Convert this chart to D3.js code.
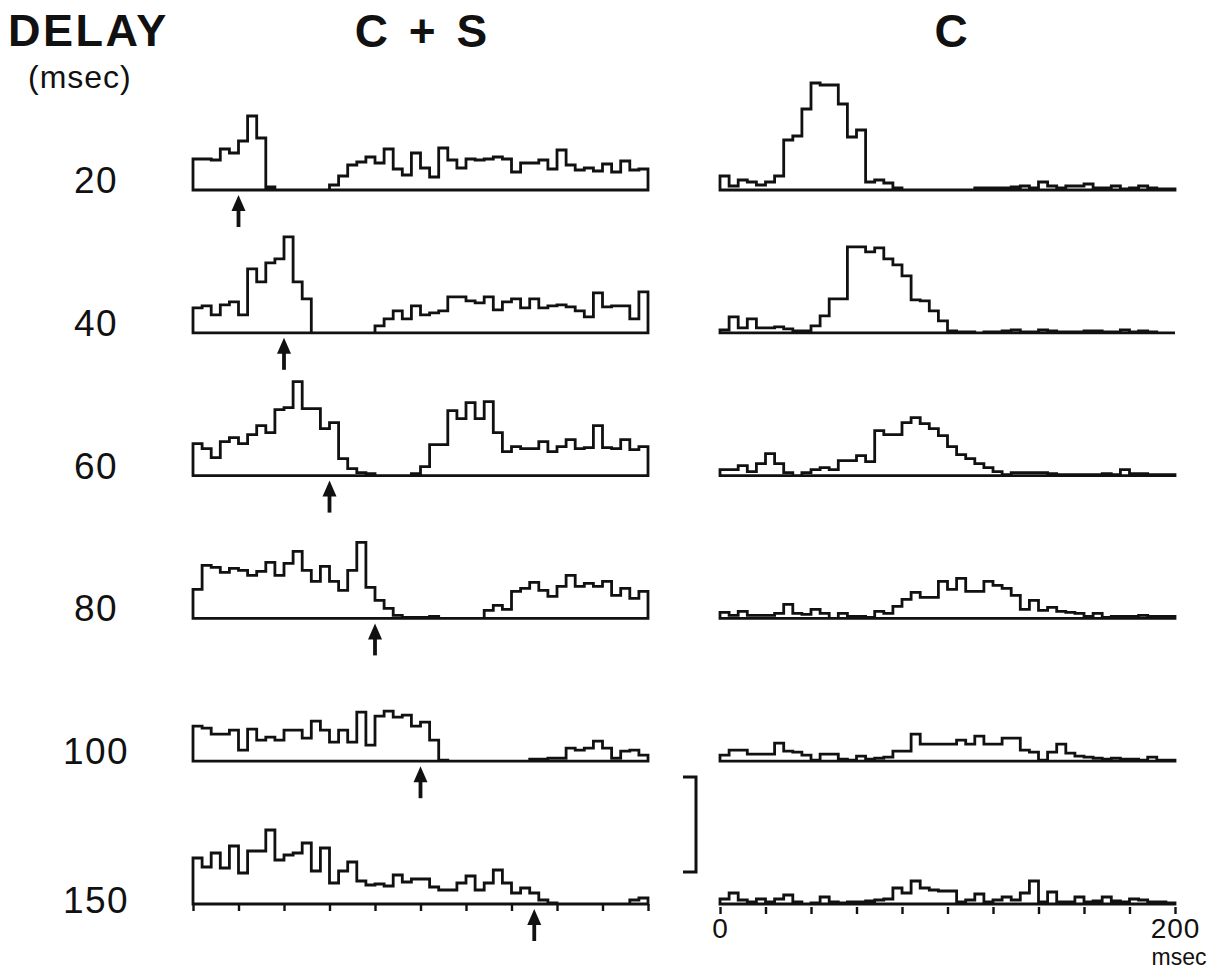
<!DOCTYPE html>
<meta charset="utf-8">
<title>Delay histograms</title>

<style>
body { margin: 0; background: #fff; }
text { font-family: "Liberation Sans", Arial, Helvetica, sans-serif; fill: #111; }
.hist { fill: none; stroke: #111; stroke-width: 2.8; stroke-linejoin: miter; }
.axis line { stroke: #111; stroke-width: 2.4; }
</style>

<body>
<svg width="1230" height="969"></svg>

<script src="https://d3js.org/d3.v7.min.js"></script>

<script>

// delays between the two stimuli (msec), one row each
var delays = [20, 40, 60, 80, 100, 150];

// C + S histograms, 4 msec bins from 0 to 200 msec
var cs20  = [31,31,30,41,37,49,74,52,3,0, 0,0,0,0,0,5,14,25,28,33, 27,41,21,15,37,22,13,42,30,22, 31,30,31,33,31,18,27,27,30,21, 40,25,20,22,19,26,18,29,20,21];
var cs40  = [25,27,18,28,31,18,64,51,70,74, 96,51,34,0,0,0,0,0,0,0, 7,14,22,14,27,18,20,22,36,36, 32,30,36,23,31,34,25,34,25,27, 28,26,22,16,40,26,27,27,14,41];
var cs60  = [32,27,18,34,38,32,41,50,43,66, 68,94,67,67,47,53,17,7,3,2, 0,0,0,0,2,9,31,31,65,57, 73,57,74,43,24,29,27,27,34,24, 29,36,27,28,50,28,27,36,26,29];
var cs80  = [29,53,51,46,50,48,43,47,56,43, 55,67,48,37,52,37,28,48,76,31, 18,10,3,1,1,1,2,0,0,0, 0,0,8,13,9,27,30,36,28,22, 32,43,32,35,32,37,23,30,20,27];
var cs100 = [35,33,27,27,31,11,32,21,24,21, 31,31,23,40,31,19,31,19,49,16, 45,50,44,46,35,39,21,1,0,0, 0,0,0,0,0,0,0,2,2,3, 3,13,11,13,20,13,3,10,11,6];
var cs150 = [46,37,51,36,58,31,53,53,74,44, 49,51,61,33,56,21,33,42,23,19, 20,18,29,22,25,25,17,14,14,21, 28,14,21,34,21,11,16,11,4,1, 0,0,0,0,0,0,0,0,4,6];

// C alone histograms
var c20  = [14,4,10,8,5,8,14,50,54,81, 107,105,105,86,53,60,8,10,7,2, 0,0,0,0,0,0,0,0,2,2, 2,2,3,4,2,8,4,2,4,4, 6,2,2,4,1,2,4,2,1,1];
var c40  = [3,16,5,14,5,5,6,4,2,2, 7,17,34,34,86,86,81,85,74,68, 57,33,32,22,12,2,1,1,0,1, 1,2,3,1,1,3,2,1,1,1, 2,2,1,1,3,1,2,1,0,0];
var c60  = [6,6,10,4,12,22,12,3,0,3, 6,8,6,15,15,20,14,45,41,41, 53,58,52,47,40,29,21,17,12,8, 4,1,3,3,3,3,2,1,1,1, 1,1,2,1,6,2,2,1,1,1];
var c80  = [6,3,7,3,3,3,5,14,5,4, 9,5,0,5,2,2,1,7,5,12, 19,26,21,21,37,29,40,27,27,37, 33,30,23,9,18,8,11,7,6,5, 2,5,1,2,2,2,3,2,2,2];
var c100 = [6,11,11,7,7,7,18,10,9,6, 1,7,7,2,1,5,2,3,4,10, 10,27,17,17,17,17,21,17,25,17, 17,23,23,11,9,1,9,17,8,5, 4,3,2,3,2,2,1,4,1,1];
var c150 = [5,11,4,2,5,2,5,9,2,0, 1,7,2,1,2,2,3,4,5,16, 11,23,16,14,13,13,2,4,10,2, 4,7,4,11,23,2,12,2,2,7, 2,3,7,3,2,5,4,2,2,1];

var csRows = [cs20, cs40, cs60, cs80, cs100, cs150];
var cRows = [c20, c40, c60, c80, c100, c150];
var binWidth = 4;
var tickValues = d3.range(0, 201, 20);
var scaleBarValue = 95;

var svg = d3.select("svg");

var xCS = d3.scaleLinear().domain([0, 200]).range([193, 648]),
    xC = d3.scaleLinear().domain([0, 200]).range([720, 1175]),
    rowY = d3.scaleLinear().domain([0, delays.length - 1]).range([190, 904]),
    y = d3.scaleLinear().domain([0, 100]).range([0, 100]);

function histPath(x, vals, base) {
  var pts = [[0, 0]]
    .concat(vals.map(function(v, i) { return [i * binWidth, v]; }))
    .concat([[200, vals[vals.length - 1]], [200, 0]]);
  return d3.line()
    .x(function(d) { return x(d[0]); })
    .y(function(d) { return base - y(d[1]); })
    .curve(d3.curveStepAfter)(pts) + "Z";
}

// headers
svg.append("text").attr("x", 8).attr("y", 46)
    .style("font-size", "45px").style("font-weight", "bold")
    .attr("letter-spacing", "2.5").text("DELAY");
svg.append("text").attr("x", 28).attr("y", 88)
    .style("font-size", "32px").attr("letter-spacing", "1").text("(msec)");
svg.append("text").attr("x", 421).attr("y", 47).attr("text-anchor", "middle")
    .style("font-size", "46px").style("font-weight", "bold").attr("word-spacing", "8")
    .text("C + S");
svg.append("text").attr("x", 951).attr("y", 47).attr("text-anchor", "middle")
    .style("font-size", "46px").style("font-weight", "bold").text("C");

// rows
delays.forEach(function(d, i) {
  var base = rowY(i);

  svg.append("text")
      .attr("x", 96).attr("y", base + 3 + (i === delays.length - 1 ? 6 : 0))
      .attr("text-anchor", "middle")
      .attr("letter-spacing", "1.5")
      .style("font-size", "37px")
      .text(d);

  svg.append("path").attr("class", "hist").attr("d", histPath(xCS, csRows[i], base));
  svg.append("path").attr("class", "hist").attr("d", histPath(xC, cRows[i], base));

  // arrow marking the delay
  var ax = xCS(d);
  svg.append("path")
      .attr("d", "M" + ax + "," + (base + 5) + "L" + (ax + 7) + "," + (base + 21) +
                 "L" + (ax - 7) + "," + (base + 21) + "Z")
      .attr("fill", "#111");
  svg.append("line")
      .attr("x1", ax).attr("x2", ax)
      .attr("y1", base + 16).attr("y2", base + 37)
      .attr("stroke", "#111").attr("stroke-width", 3.8);
});

// time axes on the bottom row
var bottom = rowY(delays.length - 1);

var axCS = svg.append("g").attr("class", "axis")
    .attr("transform", "translate(0," + bottom + ")")
    .call(d3.axisBottom(xCS).tickValues(tickValues).tickSize(7).tickFormat(""));
axCS.select(".domain").remove();

var axC = svg.append("g").attr("class", "axis")
    .attr("transform", "translate(0," + (bottom + 3) + ")")
    .call(d3.axisBottom(xC).tickValues(tickValues).tickSize(7)
      .tickFormat(function(t) { return (t === 0 || t === 200) ? t : ""; }));
axC.select(".domain").remove();
axC.selectAll(".tick text")
    .attr("y", 11).attr("dy", "0.71em")
    .style("font-size", "28px")
    .attr("letter-spacing", "1")
    .attr("fill", "#111")
    .style("font-family", "'Liberation Sans', Arial, sans-serif");

svg.append("text").attr("x", xC(200) + 4).attr("y", bottom + 61)
    .attr("text-anchor", "middle").style("font-size", "23px").text("msec");

// scale bar bracket
var barBottom = bottom - 32, barX = 696;
svg.append("path")
    .attr("d", "M" + (barX - 13) + "," + (barBottom - y(scaleBarValue)) + "H" + barX +
               "V" + barBottom + "H" + (barX - 13))
    .attr("fill", "none").attr("stroke", "#111").attr("stroke-width", 3);

</script>
</body>
